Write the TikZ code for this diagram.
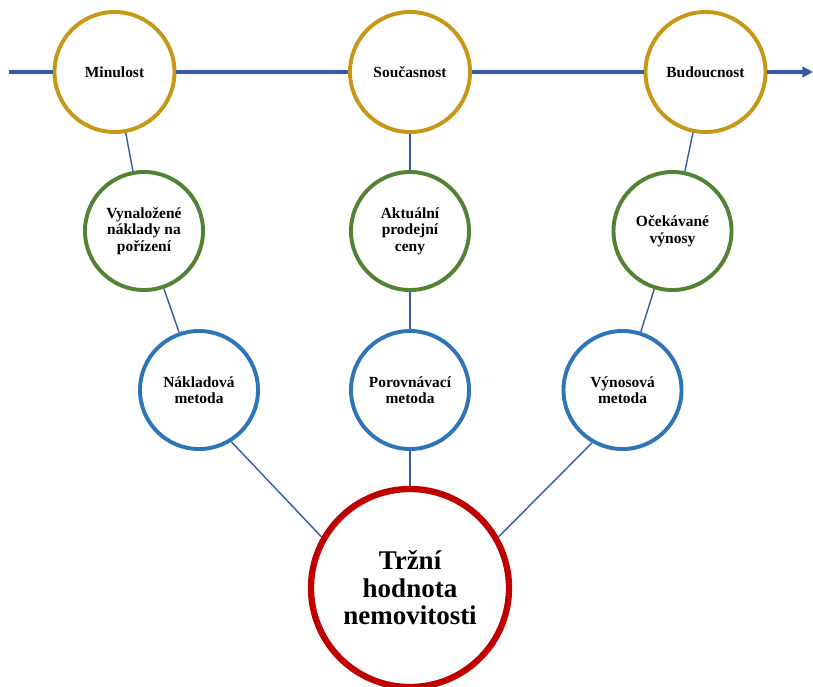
\documentclass[tikz,border=0pt]{standalone}
\usepackage{fontspec}
\setmainfont{Liberation Serif}
\usetikzlibrary{arrows.meta}
\definecolor{timegold}{RGB}{199,152,22}
\definecolor{basegreen}{RGB}{84,130,53}
\definecolor{methodblue}{RGB}{46,117,182}
\definecolor{valuered}{RGB}{192,0,0}
\definecolor{linkblue}{RGB}{52,90,166}
\tikzset{every picture/.style={line width=0.75pt}}
\tikzset{
  ring/.style={circle,fill=white,inner sep=0pt,align=center,line width=2.8pt,
    minimum size=2.95cm,font=\bfseries\fontsize{11}{11.8}\selectfont},
  timering/.style={ring,draw=timegold,minimum size=3cm},
  basering/.style={ring,draw=basegreen},
  methodring/.style={ring,draw=methodblue},
  valuering/.style={ring,draw=valuered,line width=4.5pt,minimum size=4.95cm,
    font=\bfseries\fontsize{19.2}{19.6}\selectfont},
  timeline/.style={draw=linkblue,line width=3pt},
  link/.style={draw=linkblue,line width=1pt}
}

\begin{document}
\begin{tikzpicture}[x=0.025cm,y=-0.025cm]
\useasboundingbox (0,0) rectangle (813,686);
%
\node[timering] (past) at (114.5,72) {Minulost};
\node[timering] (now) at (410,72) {Současnost};
\node[timering] (future) at (705.5,72) {Budoucnost};
\coordinate (tstart) at (9,72);
\coordinate (tend) at (813,72);
%
\node[basering] (cost) at (144,231) {Vynaložené\\náklady na\\pořízení};
\node[basering] (price) at (410,231) {Aktuální\\prodejní\\ceny};
\node[basering] (yield) at (672.5,231) {Očekávané\\výnosy};
%
\node[methodring] (costm) at (199,390) {Nákladová\\metoda};
\node[methodring] (comparem) at (410,390) {Porovnávací\\metoda};
\node[methodring] (yieldm) at (622.5,390) {Výnosová\\metoda};
%
\node[valuering] (value) at (410,588) {Tržní\\hodnota\\nemovitosti};
%
\draw[timeline] (tstart) -- (past);
\draw[timeline] (past) -- (now);
\draw[timeline] (now) -- (future);
\draw[timeline,-{Triangle[length=7.5pt,width=7.5pt]}] (future) -- (tend);
%
\draw[link] (past) -- (cost);
\draw[link] (now) -- (price);
\draw[link] (future) -- (yield);
\draw[link] (cost) -- (costm);
\draw[link] (price) -- (comparem);
\draw[link] (yield) -- (yieldm);
\draw[link] (costm.-58) -- (value.150);
\draw[link] (comparem) -- (value);
\draw[link] (yieldm.-120) -- (value.30);
\end{tikzpicture}
\end{document}
